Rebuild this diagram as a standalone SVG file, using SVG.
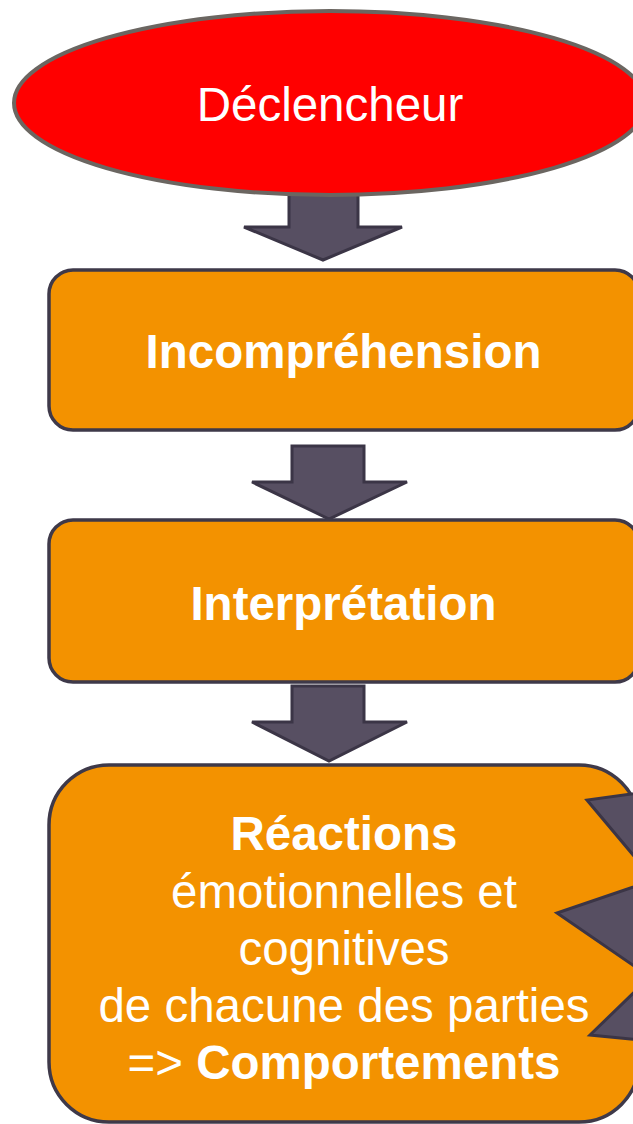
<svg xmlns="http://www.w3.org/2000/svg" width="633" height="1124" viewBox="0 0 633 1124">
  <style>
    .box { fill: #f39200; stroke: #3e3949; stroke-width: 3.5; }
    .arrow { fill: #574f62; stroke: #3b3546; stroke-width: 3; stroke-linejoin: miter; }
    .lbl { font-family: "Liberation Sans", Arial, sans-serif; fill: #ffffff; text-anchor: middle; font-size: 47.5px; }
    .b { font-weight: bold; }
  </style>
  <rect width="633" height="1124" fill="#ffffff"/>

  <!-- connectors: block arrows between the stages -->
  <g id="connectors">
    <polygon class="arrow" points="289,190 358,190 358,227 402,227 323,260 244,227 289,227"/>
    <polygon class="arrow" points="292,446 364,446 364,482 407,482 329,519 252,482 292,482"/>
    <polygon class="arrow" points="292,686 364,686 364,722 407,722 329,761 252,722 292,722"/>
  </g>

  <g id="trigger">
    <ellipse cx="330" cy="103" rx="316" ry="92" fill="#ff0000" stroke="#6b6661" stroke-width="4"/>
    <text class="lbl" x="330" y="121">Déclencheur</text>
  </g>

  <g id="incomprehension">
    <rect class="box" x="49" y="270" width="590" height="160" rx="24" ry="24"/>
    <text class="lbl b" x="343.5" y="368">Incompréhension</text>
  </g>

  <g id="interpretation">
    <rect class="box" x="49" y="520" width="590" height="162" rx="24" ry="24"/>
    <text class="lbl b" x="343.5" y="620">Interprétation</text>
  </g>

  <g id="reactions">
    <rect class="box" x="49" y="765" width="590" height="357" rx="60" ry="60"/>
    <text class="lbl b" x="344" y="850">Réactions</text>
    <text class="lbl" x="344" y="908">émotionnelles et</text>
    <text class="lbl" x="344" y="965">cognitives</text>
    <text class="lbl" x="344" y="1022">de chacune des parties</text>
    <text class="lbl" x="344" y="1079">=&gt; <tspan class="b">Comportements</tspan></text>
  </g>

  <!-- return arrow heads entering from the right edge -->
  <g id="feedback">
    <polygon class="arrow" points="690,786 587,800 654,880 557,913 650,977 590,1035 690,1045"/>
  </g>
</svg>
